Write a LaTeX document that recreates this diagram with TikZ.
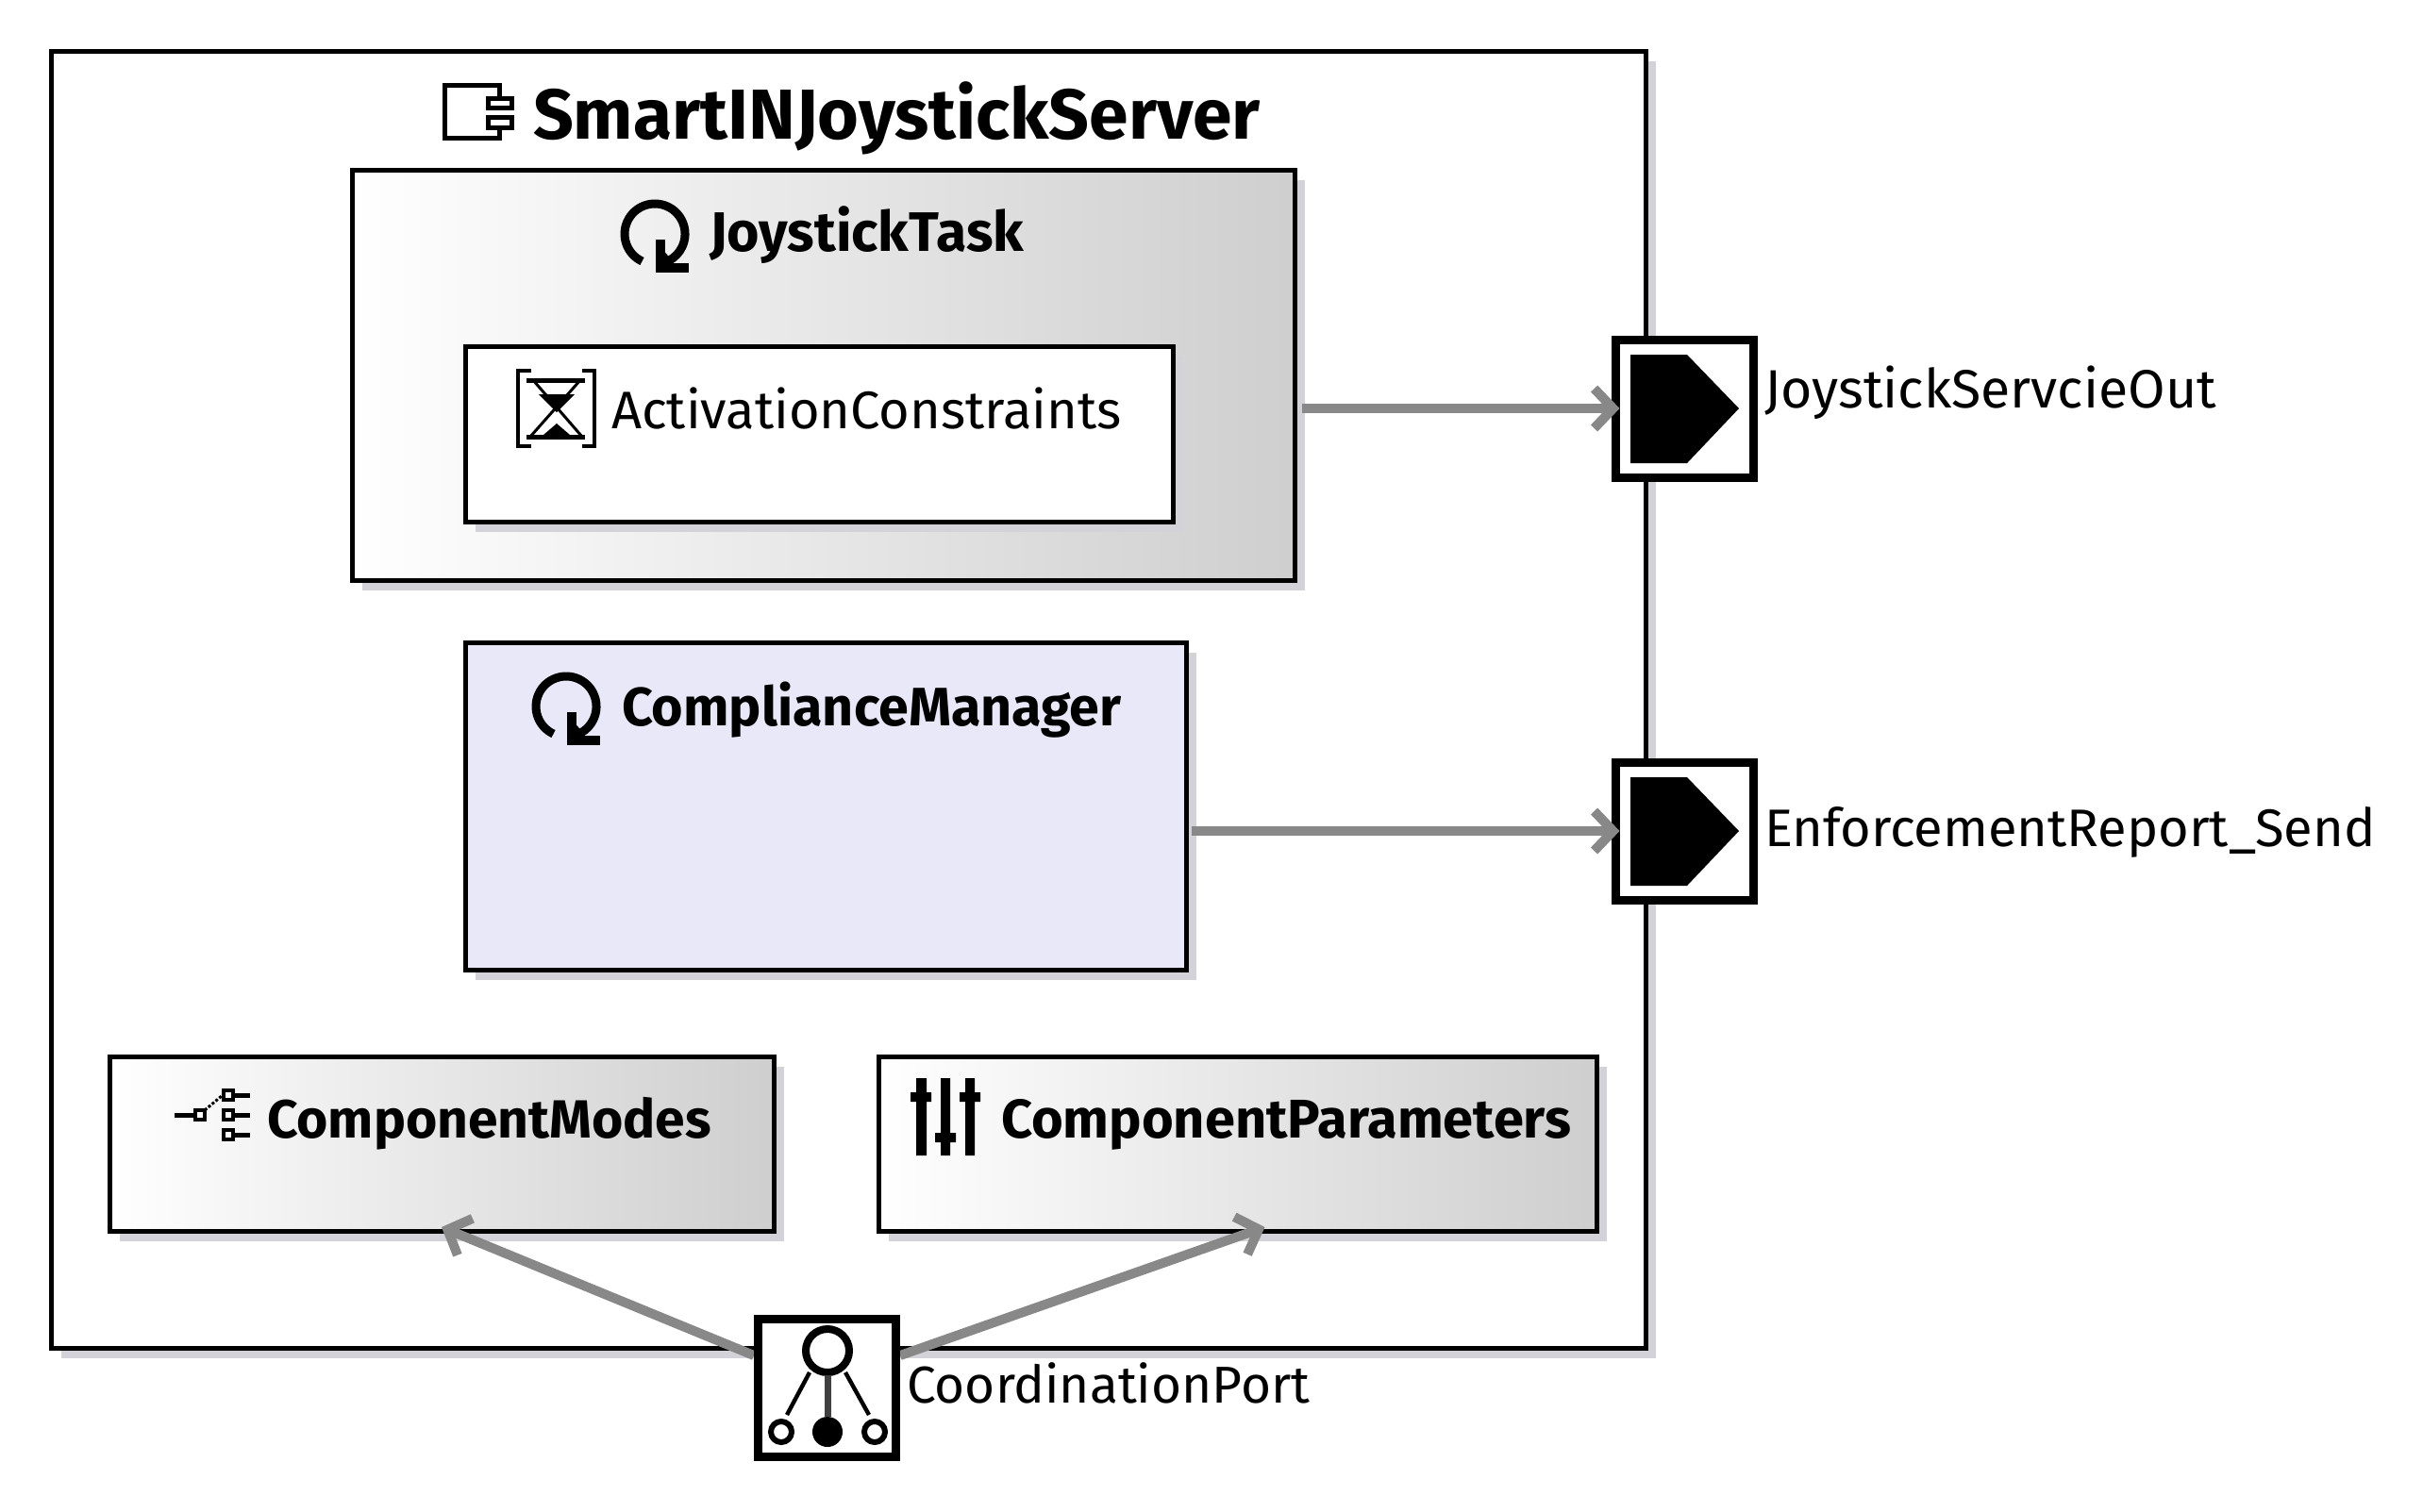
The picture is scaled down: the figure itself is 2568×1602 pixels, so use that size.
\documentclass[tikz,border=0pt]{standalone}
\usepackage{fontspec}
\setmainfont{Fira Sans}
\usetikzlibrary{arrows.meta,shadows}
\definecolor{shadowc}{HTML}{D2D2D8}
\definecolor{flowc}{HTML}{888888}
\definecolor{compc}{HTML}{E8E8F8}
\newcommand{\fs}[1]{\fontsize{#1}{#1}\selectfont}
\tikzset{
  x=0.5pt,y=-0.5pt,
  box/.style={draw=black,line width=2.5pt,rectangle,inner sep=0pt,outer sep=0pt,
     general shadow={fill=shadowc,shadow xshift=5.5pt,shadow yshift=-5.5pt}},
  grad/.style={box,left color=white,right color=black!19,shading angle=90},
  portbox/.style={draw=black,fill=white,line width=4.5pt,rectangle,inner sep=0pt,outer sep=0pt,minimum size=73pt},
  flow/.style={draw=flowc,line width=5pt,-{Straight Barb[length=10pt,width=21pt,line width=5pt]}},
  lab/.style={anchor=base west,inner sep=0pt,outer sep=0pt,text=black},
  outpin/.pic={\fill[black] (-57.5,-57)--(2.5,-57)--(57.5,0)--(2.5,58)--(-57.5,58)--cycle;},
  cyc/.pic={
    \draw[line width=4.5pt] (-13.5,29) arc[start angle=245,delta angle=-305,radius=16pt];
    \draw[line width=5pt,miter limit=10] (6,6)--(6,36)--(36,36);
    \fill (6,14)--(20,30)--(6,36)--cycle;
  },
}
\begin{document}
\begin{tikzpicture}
\useasboundingbox (0,0) rectangle (2568,1602);
% containers
\node[box,fill=white,minimum width=845pt,minimum height=687.5pt] (outer) at (899,741.5) {};
\node[grad,minimum width=499.5pt,minimum height=217.5pt] (task) at (872.5,397.5) {};
\node[box,fill=white,minimum width=375pt,minimum height=93pt] (activ) at (868,460) {};
\node[box,fill=compc,minimum width=382pt,minimum height=173.5pt] (comp) at (875,854.5) {};
\node[grad,minimum width=352pt,minimum height=92.5pt] (modes) at (468,1212.5) {};
\node[grad,minimum width=380.5pt,minimum height=92.5pt] (params) at (1311.5,1212.5) {};
% title
\draw[line width=2.5pt] (542,104)--(529,104)--(529,90)--(471,90)--(471,146)--(529,146)--(529,135)--(542,135);
\draw[line width=2.5pt,fill=white] (517,104) rectangle (542,114);
\draw[line width=2.5pt,fill=white] (517,124) rectangle (542,135);
\node[lab,font=\fs{37.5}\bfseries] (titleT) at (565,147) {SmartINJoystickServer};
% task
\pic at (694,248) {cyc};
\node[lab,font=\fs{29.5}\bfseries] (taskT) at (752,266) {JoystickTask};
% hourglass
\draw[line width=2pt] (563,393)--(549,393)--(549,473)--(563,473);
\draw[line width=2pt] (617,393)--(630,393)--(630,473)--(617,473);
\draw[line width=2.5pt] (558,403)--(620,403);
\draw[line width=2.5pt] (558,463)--(620,463);
\draw[line width=1.5pt] (565,403)--(617,463);
\draw[line width=1.5pt] (615,403)--(562,463);
\fill (571,418)--(609,418)--(590,437)--cycle;
\fill (576,461)--(604,461)--(590,449)--cycle;
\node[lab,font=\fs{28}] (activT) at (648,454) {ActivationConstraints};
% compliance
\pic at (600,749) {cyc};
\node[lab,font=\fs{28.7}\bfseries] (compT) at (659,769) {ComplianceManager};
% modes
\draw[line width=2.5pt] (185,1182)--(205,1182);
\draw[line width=2pt,fill=white] (207,1177) rectangle (217,1187);
\draw[line width=1.5pt,densely dotted] (217,1177)--(236,1161);
\draw[line width=2pt,fill=white] (237,1156) rectangle (247,1166);
\draw[line width=2pt,fill=white] (237,1177) rectangle (247,1187);
\draw[line width=2pt,fill=white] (237,1198) rectangle (247,1208);
\draw[line width=2.5pt] (248,1161)--(265,1161) (248,1182)--(265,1182) (248,1203)--(265,1203);
\node[lab,font=\fs{28.5}\bfseries] (modesT) at (283,1206) {ComponentModes};
% params
\fill (971,1143) rectangle (982,1225) (965,1158) rectangle (987,1168);
\fill (997,1143) rectangle (1007,1225) (991,1201) rectangle (1013,1211);
\fill (1023,1143) rectangle (1033,1225) (1017,1158) rectangle (1039,1168);
\node[lab,font=\fs{28.9}\bfseries] (paramsT) at (1061,1206) {ComponentParameters};
% ports
\node[portbox] (port1) at (1785.5,433) {};
\pic at (1785.5,433) {outpin};
\node[portbox] (port2) at (1785.5,881) {};
\pic at (1785.5,881) {outpin};
% connectors
\draw[flow] ([xshift=4pt]task.east |- port1.west) -- ([xshift=2pt]port1.west);
\draw[flow] ([xshift=3pt]comp.east |- port2.west) -- ([xshift=2pt]port2.west);
\coordinate (pw) at (799,1437);
\coordinate (pe) at (954,1437);
\draw[flow] (pw) -- ([yshift=2pt]modes.south);
\draw[flow] (pe) -- ([xshift=14.5pt,yshift=2pt]params.south);
% coordination port
\node[portbox] (port3) at (876.5,1471.5) {};
\draw[line width=4pt] (877,1432) circle[radius=11.5pt];
\draw[line width=3pt] (828,1518) circle[radius=5.5pt];
\draw[line width=3pt] (927,1518) circle[radius=5.5pt];
\fill (877,1518) circle[radius=8pt];
\draw[line width=2.2pt] (858,1455)--(834,1500);
\draw[line width=2.2pt] (896,1455)--(921,1500);
\draw[line width=3.5pt,draw=black!75] (877,1458)--(877,1502);
% labels
\node[lab,font=\fs{28.6}] (l1) at (1870,432) {JoystickServcieOut};
\node[lab,font=\fs{28}] (l2) at (1870,897) {EnforcementReport\_Send};
\node[lab,font=\fs{27.5}] (l3) at (961,1487) {CoordinationPort};
\end{tikzpicture}
\end{document}
